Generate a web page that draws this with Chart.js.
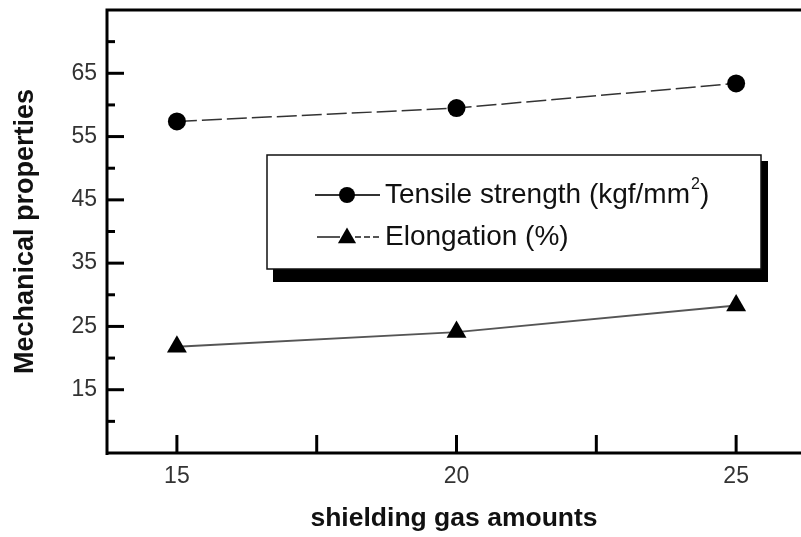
<!DOCTYPE html>
<html>
<head>
<meta charset="utf-8">
<title>Mechanical properties vs shielding gas amounts</title>
<script src="https://cdn.jsdelivr.net/npm/chart.js@4/dist/chart.umd.min.js"></script>
<style>
  html, body { margin: 0; padding: 0; background: #fff; }
  #wrap { width: 801px; height: 537px; }
</style>
</head>
<body>
<div id="wrap"><canvas id="c" width="801" height="537"></canvas></div>
<script>
// Shielding gas amounts (x) and measured properties
const gasAmounts = [15, 20, 25];
const tensileStrength = [57.4, 59.5, 63.4];
const elongation = [21.8, 24.1, 28.3];

// Axis ticks
const xTickValues = [15, 17.5, 20, 22.5, 25];
const xTickLabels = ['15', '', '20', '', '25'];
const yTickValues = [5, 10, 15, 20, 25, 30, 35, 40, 45, 50, 55, 60, 65, 70, 75];
const yTickLabels = ['', '', '15', '', '25', '', '35', '', '45', '', '55', '', '65', '', ''];

const seriesLabels = ['Tensile strength (kgf/mm\u00B2)', 'Elongation (%)'];
const axisTitles = { x: 'shielding gas amounts', y: 'Mechanical properties' };

const FONT = "'Liberation Sans', Arial, Helvetica, sans-serif";

// Frame, inward tick marks and boxed legend with drop shadow
const frameAndLegend = {
  id: 'frameAndLegend',
  beforeDraw(chart) {
    const ctx = chart.ctx;
    ctx.save();
    ctx.fillStyle = '#fff';
    ctx.fillRect(0, 0, chart.width, chart.height);
    ctx.restore();
  },
  afterDraw(chart) {
    const ctx = chart.ctx;
    const area = chart.chartArea;
    const xs = chart.scales.x, ys = chart.scales.y;
    ctx.save();
    ctx.strokeStyle = '#000';
    ctx.lineCap = 'butt';

    // axes and top border
    ctx.lineWidth = 3;
    ctx.beginPath();
    ctx.moveTo(area.left, area.top);
    ctx.lineTo(area.right, area.top);
    ctx.moveTo(area.left, area.top - 1.5);
    ctx.lineTo(area.left, area.bottom + 2);
    ctx.moveTo(area.left - 1.5, area.bottom);
    ctx.lineTo(area.right, area.bottom);
    ctx.stroke();

    // y ticks pointing inward
    ys.ticks.forEach((t, i) => {
      const y = ys.getPixelForValue(t.value);
      if (t.value <= ys.min || t.value >= ys.max) return;
      const len = yTickLabels[i] ? 17 : 8;
      ctx.beginPath();
      ctx.moveTo(area.left, y);
      ctx.lineTo(area.left + len, y);
      ctx.stroke();
    });
    // x ticks pointing inward
    xs.ticks.forEach((t) => {
      const x = xs.getPixelForValue(t.value);
      ctx.beginPath();
      ctx.moveTo(x, area.bottom);
      ctx.lineTo(x, area.bottom - 18);
      ctx.stroke();
    });

    // legend box
    const bx = 267, by = 155, bw = 494, bh = 114;
    ctx.fillStyle = '#000';
    ctx.fillRect(bx + 6, by + 6, bw + 1, bh + 7);
    ctx.fillStyle = '#fff';
    ctx.fillRect(bx, by, bw, bh);
    ctx.lineWidth = 1.5;
    ctx.strokeStyle = '#111';
    ctx.strokeRect(bx, by, bw, bh);

    const rows = [195, 237];
    const ds = chart.data.datasets;
    rows.forEach((ry, i) => {
      const d = ds[i];
      ctx.strokeStyle = d.borderColor;
      ctx.lineWidth = 2;
      if (i === 0) {
        ctx.beginPath();
        ctx.moveTo(315, ry); ctx.lineTo(380, ry);
        ctx.stroke();
      } else {
        ctx.beginPath();
        ctx.moveTo(317, ry); ctx.lineTo(340, ry);
        ctx.stroke();
        ctx.setLineDash([6, 3]);
        ctx.beginPath();
        ctx.moveTo(355, ry); ctx.lineTo(381, ry);
        ctx.stroke();
        ctx.setLineDash([]);
      }
      ctx.fillStyle = '#000';
      Chart.helpers.drawPoint(ctx, {
        pointStyle: d.pointStyle,
        radius: i === 0 ? 8 : 10.5,
        borderWidth: 0,
        rotation: 0
      }, 347, i === 0 ? ry : ry + 1);

      // label text with raised superscript
      ctx.fillStyle = '#111';
      ctx.textBaseline = 'middle';
      ctx.textAlign = 'left';
      let tx = 385;
      const label = d.label;
      for (const part of label.split(/(\u00B2)/)) {
        if (!part) continue;
        if (part === '\u00B2') {
          ctx.font = '16px ' + FONT;
          ctx.fillText('2', tx + 1, ry - 10);
          tx += ctx.measureText('2').width + 1;
        } else {
          ctx.font = '28px ' + FONT;
          ctx.fillText(part, tx, ry);
          tx += ctx.measureText(part).width;
        }
      }
    });
    ctx.restore();
  }
};

new Chart(document.getElementById('c'), {
  type: 'line',
  data: {
    datasets: [
      {
        label: seriesLabels[0],
        data: gasAmounts.map((x, i) => ({ x, y: tensileStrength[i] })),
        borderColor: '#333',
        borderWidth: 1.5,
        borderDash: [20, 5],
        pointStyle: 'circle',
        pointRadius: 9,
        pointBackgroundColor: '#000',
        pointBorderColor: '#000',
        pointBorderWidth: 0,
        tension: 0
      },
      {
        label: seriesLabels[1],
        data: gasAmounts.map((x, i) => ({ x, y: elongation[i] })),
        borderColor: '#555',
        borderWidth: 2,
        pointStyle: 'triangle',
        pointRadius: 11.5,
        pointBackgroundColor: '#000',
        pointBorderColor: '#000',
        pointBorderWidth: 0,
        tension: 0
      }
    ]
  },
  options: {
    responsive: false,
    animation: false,
    devicePixelRatio: 1,
    layout: { autoPadding: false, padding: { top: 10, right: 0, bottom: 0, left: 0 } },
    plugins: { legend: { display: false }, tooltip: { enabled: false } },
    scales: {
      x: {
        type: 'linear',
        min: 13.75,
        max: 26.16,
        afterBuildTicks(scale) { scale.ticks = xTickValues.map(v => ({ value: v })); },
        afterFit(scale) { scale.height = 84; scale.paddingLeft = 0; scale.paddingRight = 0; },
        grid: { display: false, drawTicks: false },
        border: { display: false },
        ticks: {
          padding: 10,
          color: '#333',
          font: { family: FONT, size: 23 },
          maxRotation: 0,
          autoSkip: false,
          callback(value, index) { return xTickLabels[index]; }
        },
        title: {
          display: true,
          text: axisTitles.x,
          color: '#111',
          font: { family: FONT, size: 26.5, weight: 'bold' },
          padding: { top: 0, bottom: 2 }
        }
      },
      y: {
        type: 'linear',
        min: 5,
        max: 75,
        afterBuildTicks(scale) { scale.ticks = yTickValues.map(v => ({ value: v })); },
        afterFit(scale) { scale.width = 107; scale.paddingTop = 0; scale.paddingBottom = 0; },
        grid: { display: false, drawTicks: false },
        border: { display: false },
        ticks: {
          padding: 10,
          color: '#333',
          font: { family: FONT, size: 23 },
          autoSkip: false,
          callback(value, index) { return yTickLabels[index]; }
        },
        title: {
          display: true,
          text: axisTitles.y,
          color: '#111',
          font: { family: FONT, size: 27, weight: 'bold' },
          padding: { top: 9, bottom: 0 }
        }
      }
    }
  },
  plugins: [frameAndLegend]
});
</script>
</body>
</html>
